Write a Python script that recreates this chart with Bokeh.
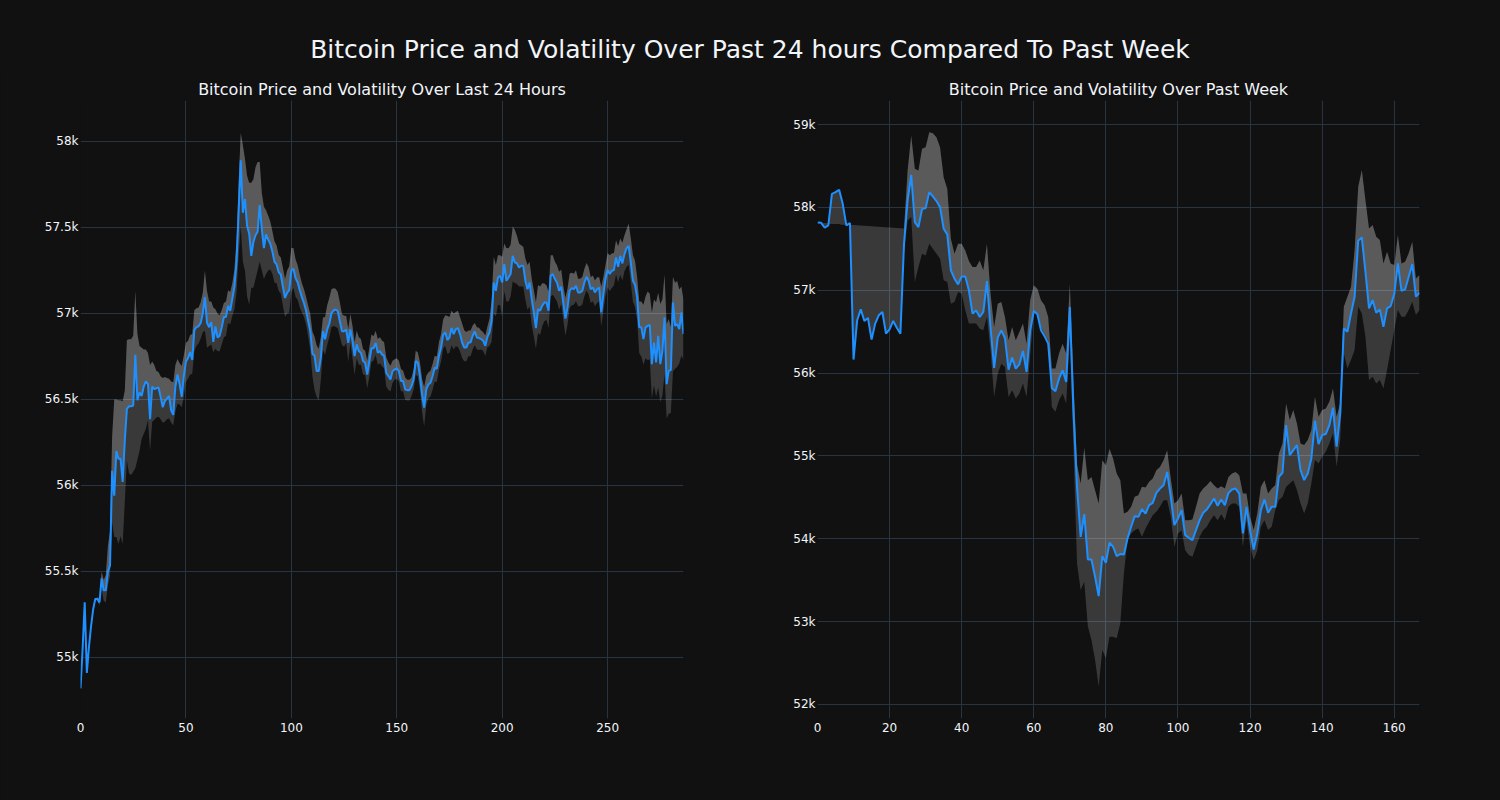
from bokeh.plotting import figure
from bokeh.models import Range1d, FixedTicker, NumeralTickFormatter, Div
from bokeh.layouts import column, row
from bokeh.embed import file_html
from bokeh.resources import INLINE

# ---------------- data ----------------
main_title = "Bitcoin Price and Volatility Over Past 24 hours Compared To Past Week"
day_title = "Bitcoin Price and Volatility Over Last 24 Hours"
week_title = "Bitcoin Price and Volatility Over Past Week"

day_price = [
    54820, 55050, 55320, 54910, 55060, 55180, 55280, 55340, 55340, 55320,
    55460, 55390, 55390, 55500, 55535, 56085, 55940, 56200, 56155, 56155,
    56020, 56260, 56445, 56460, 56460, 56465, 56760, 56495, 56540, 56520,
    56575, 56605, 56590, 56385, 56575, 56560, 56565, 56570, 56515, 56455,
    56490, 56505, 56520, 56435, 56410, 56575, 56645, 56590, 56515, 56635,
    56720, 56740, 56775, 56730, 56905, 56920, 56925, 56945, 57000, 57095,
    56945, 56920, 56950, 56835, 56925, 56860, 56870, 56920, 56980, 56980,
    57045, 57015, 57085, 57155, 57300, 57585, 57890, 57585, 57665, 57510,
    57465, 57335, 57415, 57455, 57475, 57630, 57490, 57380, 57460, 57430,
    57405, 57360, 57300, 57285, 57240, 57225, 57155, 57090, 57120, 57135,
    57250, 57260, 57205, 57180, 57135, 57095, 57060, 57015, 56955, 56895,
    56765, 56755, 56665, 56665, 56745, 56897, 56850, 56907, 56940, 57000,
    57017, 57023, 57014, 56955, 56897, 56897, 56907, 56829, 56907, 56839,
    56752, 56820, 56781, 56771, 56723, 56713, 56645, 56723, 56797, 56797,
    56829, 56771, 56781, 56762, 56752, 56655, 56636, 56616, 56665, 56674,
    56680, 56665, 56607, 56607, 56558, 56554, 56554, 56578, 56616, 56723,
    56713, 56636, 56529, 56452, 56558, 56587, 56597, 56636, 56684, 56680,
    56752, 56800, 56875, 56890, 56845, 56860, 56915, 56880, 56909, 56915,
    56880, 56831, 56802, 56802, 56831, 56831, 56870, 56895, 56860, 56857,
    56851, 56841, 56812, 56864, 56890, 56957, 57180, 57132, 57209, 57219,
    57180, 57287, 57190, 57209, 57229, 57335, 57297, 57291, 57267, 57277,
    57277, 57190, 57141, 57180, 57083, 57006, 56915, 57025, 57016, 57045,
    57064, 57064, 57016, 57219, 57229, 57200, 57180, 57132, 57155, 57060,
    56970, 57035, 57132, 57147, 57141, 57161, 57122, 57122, 57132, 57180,
    57213, 57190, 57141, 57151, 57122, 57141, 57151, 57006, 57112, 57200,
    57252, 57229, 57248, 57252, 57326, 57271, 57335, 57291, 57345, 57380,
    57393, 57297, 57190, 57167, 57093, 56919, 56919, 56851, 56919, 56928,
    56934, 56705, 56831, 56715, 56870, 56705, 56783, 56977, 56589, 56667,
    56671, 57064, 56928, 56938, 56909, 57006, 56880,
]

# distance of the upper band above the price, and of the lower band below it
day_band_up = [
    0, 0, 0, 0, 0, 0, 0, 0, 10, 20,
    40, 60, 90, 150, 200, 200, 560, 300, 340, 340,
    470, 290, 400, 390, 390, 405, 370, 385, 270, 280,
    215, 185, 180, 315, 145, 140, 100, 90, 120, 170,
    140, 120, 100, 170, 190, 125, 90, 120, 180, 120,
    110, 100, 100, 150, 115, 110, 110, 120, 120, 155,
    185, 150, 120, 200, 100, 140, 120, 100, 80, 90,
    90, 110, 90, 100, 130, 180, 160, 395, 235, 290,
    295, 425, 365, 395, 405, 250, 210, 240, 140, 140,
    130, 120, 120, 110, 100, 100, 110, 110, 130, 140,
    130, 120, 110, 100, 90, 80, 80, 80, 90, 100,
    130, 110, 150, 130, 120, 80, 130, 140, 150, 140,
    130, 120, 110, 110, 100, 90, 80, 80, 90, 90,
    80, 80, 80, 80, 70, 70, 80, 80, 80, 70,
    70, 80, 80, 80, 80, 90, 80, 80, 60, 60,
    60, 60, 70, 60, 70, 60, 60, 50, 60, 60,
    60, 80, 90, 120, 80, 70, 70, 70, 70, 70,
    80, 80, 90, 100, 140, 120, 100, 120, 100, 100,
    100, 110, 100, 90, 70, 70, 60, 50, 60, 60,
    50, 50, 60, 60, 80, 120, 150, 150, 130, 120,
    150, 120, 190, 170, 170, 170, 190, 160, 140, 120,
    110, 130, 140, 120, 120, 130, 150, 140, 140, 130,
    110, 100, 110, 120, 110, 100, 100, 110, 100, 100,
    120, 110, 100, 90, 90, 90, 80, 80, 80, 80,
    80, 80, 70, 70, 70, 70, 60, 150, 100, 80,
    100, 110, 100, 100, 100, 120, 100, 120, 110, 110,
    130, 140, 150, 140, 120, 150, 150, 200, 180, 200,
    180, 300, 250, 350, 250, 350, 300, 250, 350, 300,
    250, 150, 250, 250, 230, 150, 200,
]

day_band_dn = [
    0, 0, 0, 0, 0, 0, 0, 0, 10, 20,
    60, 60, 70, 80, 60, 300, 240, 500, 495, 450,
    360, 360, 300, 390, 400, 385, 660, 345, 340, 250,
    275, 275, 210, 185, 205, 180, 170, 170, 130, 90,
    120, 120, 130, 70, 60, 145, 170, 120, 60, 120,
    120, 120, 130, 80, 125, 110, 100, 90, 110, 195,
    145, 110, 130, 60, 130, 80, 90, 100, 120, 110,
    100, 80, 100, 130, 180, 250, 380, 285, 415, 410,
    415, 185, 265, 255, 225, 330, 240, 180, 230, 180,
    150, 130, 120, 110, 110, 110, 110, 110, 120, 130,
    130, 110, 110, 100, 100, 90, 80, 80, 90, 110,
    130, 200, 150, 170, 130, 110, 90, 90, 80, 80,
    90, 100, 100, 90, 80, 90, 80, 110, 80, 100,
    110, 80, 80, 70, 80, 70, 80, 90, 80, 70,
    70, 70, 70, 70, 70, 80, 80, 70, 70, 60,
    60, 60, 60, 60, 60, 60, 60, 60, 60, 80,
    80, 80, 100, 110, 90, 80, 80, 80, 80, 80,
    80, 80, 80, 80, 80, 90, 100, 90, 100, 110,
    100, 90, 80, 80, 80, 80, 80, 80, 70, 70,
    60, 60, 60, 60, 80, 120, 180, 150, 160, 170,
    200, 160, 120, 140, 130, 150, 120, 120, 110, 120,
    120, 110, 120, 140, 150, 140, 120, 140, 140, 120,
    110, 100, 100, 120, 120, 110, 110, 110, 100, 100,
    100, 100, 100, 100, 90, 90, 80, 80, 80, 80,
    80, 80, 80, 80, 80, 80, 80, 80, 100, 100,
    100, 100, 100, 90, 100, 90, 110, 100, 100, 110,
    110, 120, 120, 130, 130, 150, 170, 150, 180, 200,
    200, 200, 250, 200, 300, 220, 260, 330, 200, 250,
    250, 400, 250, 250, 200, 250, 150,
]

week_price = [
    57818, 57814, 57754, 57782, 58164, 58184, 58212, 58043, 57782, 57810,
    56163, 56637, 56769, 56629, 56665, 56404, 56597, 56697, 56737, 56476,
    56528, 56629, 56548, 56476, 57561, 58084, 58393, 57822, 57762, 57979,
    57991, 58184, 58132, 58076, 58003, 57742, 57674, 57240, 57139, 57071,
    57167, 57167, 56999, 56717, 56757, 56677, 56737, 57111, 56556, 56062,
    56428, 56516, 56424, 56042, 56187, 56054, 56106, 56267, 56014, 56516,
    56749, 56709, 56516, 56444, 56355, 55821, 55781, 55933, 56034, 55893,
    56798, 55550, 54620, 54024, 54297, 53751, 53751, 53542, 53309, 53791,
    53711, 53952, 53904, 53791, 53815, 53811, 54004, 54145, 54273, 54265,
    54357, 54305, 54406, 54434, 54554, 54606, 54647, 54807, 54506, 54165,
    54245, 54345, 54044, 54012, 53984, 54104, 54225, 54313, 54353, 54418,
    54486, 54398, 54474, 54406, 54554, 54594, 54606, 54546, 54064, 54386,
    54100, 53871, 54064, 54346, 54475, 54314, 54386, 54386, 54749, 54797,
    55372, 55010, 55071, 55131, 54829, 54708, 54789, 54970, 55425, 55143,
    55252, 55264, 55372, 55582, 55111, 55514, 56539, 56499, 56720, 56922,
    57598, 57638, 57223, 56781, 56881, 56728, 56769, 56559, 56781, 56809,
    56954, 57324, 56994, 57010, 57163, 57316, 56922, 56970,
]

# the weekly bands start after the first 24 hours
week_upper = [None] * 24 + [
    57745, 58445, 58867, 58465, 58445, 58707,
    58727, 58908, 58896, 58847, 58727, 58365, 58224, 57622, 57441, 57561,
    57561, 57481, 57352, 57280, 57280, 57360, 57240, 57561, 56958, 56556,
    56838, 56858, 56677, 56396, 56556, 56396, 56496, 56597, 56355, 56878,
    57059, 57019, 56878, 56818, 56677, 56054, 56054, 56235, 56355, 56235,
    57079, 55900, 54900, 54667, 55100, 54707, 54747, 54586, 54426, 54948,
    54888, 55088, 54968, 54787, 54707, 54305, 54325, 54386, 54506, 54526,
    54627, 54619, 54687, 54727, 54827, 54867, 54948, 55068, 54727, 54426,
    54466, 54546, 54225, 54225, 54233, 54386, 54546, 54606, 54647, 54699,
    54647, 54606, 54635, 54606, 54747, 54787, 54807, 54767, 54546, 54546,
    54265, 54105, 54306, 54628, 54708, 54547, 54608, 54648, 55030, 55151,
    55634, 55433, 55553, 55392, 55151, 55131, 55191, 55312, 55714, 55473,
    55553, 55574, 55654, 55815, 55473, 55634, 56801, 56922, 57042, 57485,
    58249, 58451, 58089, 57746, 57787, 57646, 57606, 57324, 57465, 57324,
    57304, 57666, 57324, 57344, 57445, 57586, 57143, 57183,
]

week_lower = [None] * 24 + [
    57450, 57842, 57883, 57100, 57280, 57440,
    57420, 57561, 57501, 57440, 57380, 57119, 57099, 56838, 56858, 56978,
    56958, 56757, 56597, 56597, 56597, 56536, 56516, 56677, 56275, 55712,
    55994, 56114, 56074, 55712, 55793, 55692, 55753, 55873, 55712, 56215,
    56737, 56717, 56556, 56476, 56396, 55592, 55532, 55672, 55753, 55632,
    56450, 55100, 53700, 53382, 53482, 52940, 52779, 52538, 52217, 52659,
    52558, 52819, 52819, 52799, 52980, 53582, 53984, 54064, 54104, 54124,
    54024, 54124, 54205, 54285, 54325, 54386, 54466, 54466, 54265, 53904,
    54064, 54104, 53863, 53803, 53783, 53904, 54024, 54104, 54145, 54225,
    54285, 54225, 54297, 54225, 54386, 54426, 54426, 54386, 53904, 54225,
    53904, 53743, 53863, 54145, 54225, 54105, 54145, 54346, 54467, 54507,
    54628, 54668, 54708, 54588, 54427, 54306, 54427, 54668, 54950, 54910,
    54990, 55050, 55151, 55272, 54869, 55191, 56238, 56056, 56157, 56278,
    56801, 56720, 56439, 55916, 55956, 55875, 55916, 55815, 56036, 56278,
    56519, 56761, 56680, 56680, 56761, 56861, 56700, 56761,
]

day_x_ticks = [0, 50, 100, 150, 200, 250]
day_y_ticks = [55000, 55500, 56000, 56500, 57000, 57500, 58000]
week_x_ticks = [0, 20, 40, 60, 80, 100, 120, 140, 160]
week_y_ticks = [52000, 53000, 54000, 55000, 56000, 57000, 58000, 59000]

# ---------------- style ----------------
BG = "#111111"
GRID = "#283442"
TXT = "#f2f5fa"
LINE = "#1e90ff"
FONT = "DejaVu Sans"
HEAD_H = 70


def band_polygons(xs, price, upper, lower):
    valid = [i for i in range(len(xs)) if upper[i] is not None]
    vx = [xs[i] for i in valid]
    up = [upper[i] for i in valid]
    lo = [lower[i] for i in valid]
    band = (vx + vx[::-1], up + lo[::-1])
    above = (list(xs) + vx[::-1], list(price) + up[::-1])
    return band, above


def make_panel(title, xs, price, upper, lower, xr, yr, xt, yt, bl, br):
    p = figure(width=750, height=800 - HEAD_H, output_backend="svg", toolbar_location=None,
               x_range=Range1d(*xr), y_range=Range1d(*yr),
               min_border_left=bl, min_border_right=br,
               min_border_top=100 - HEAD_H, min_border_bottom=82,
               background_fill_color=BG, border_fill_color=BG,
               outline_line_color=None, title=title)
    p.title.align = "center"
    p.title.text_font = FONT
    p.title.text_font_size = "16px"
    p.title.text_font_style = "normal"
    p.title.text_color = TXT
    p.title.standoff = 4

    band, above = band_polygons(xs, price, upper, lower)
    p.patch(band[0], band[1], fill_color="white", fill_alpha=0.17, line_color=None)
    p.patch(above[0], above[1], fill_color="white", fill_alpha=0.17, line_color=None)
    p.line(xs, price, line_color=LINE, line_width=2)

    p.xaxis.ticker = FixedTicker(ticks=xt)
    p.yaxis.ticker = FixedTicker(ticks=yt)
    p.yaxis.formatter = NumeralTickFormatter(format="0.[0]a")
    for ax in (p.xaxis[0], p.yaxis[0]):
        ax.axis_line_color = None
        ax.major_tick_line_color = None
        ax.minor_tick_line_color = None
        ax.major_tick_out = 0
        ax.major_tick_in = 0
        ax.minor_tick_out = 0
        ax.major_label_text_color = TXT
        ax.major_label_text_font = FONT
        ax.major_label_text_font_size = "12px"
    p.xaxis.major_label_standoff = 4
    p.yaxis.major_label_standoff = 2
    p.xgrid.grid_line_color = GRID
    p.ygrid.grid_line_color = GRID
    p.xgrid.grid_line_width = 1
    p.ygrid.grid_line_width = 1
    return p


day_x = list(range(len(day_price)))
day_upper = [v + d for v, d in zip(day_price, day_band_up)]
day_lower = [v - d for v, d in zip(day_price, day_band_dn)]
week_x = list(range(len(week_price)))

p1 = make_panel(day_title, day_x, day_price, day_upper, day_lower,
                (0, len(day_price) - 1), (54645, 58238), day_x_ticks, day_y_ticks, 80, 67)
p2 = make_panel(week_title, week_x, week_price, week_upper, week_lower,
                (0, len(week_price) - 1), (51831, 59290), week_x_ticks, week_y_ticks, 67, 81)

head = Div(text=(
    '<div style="width:1500px;height:%dpx;background:%s;color:%s;'
    'font-family:\'%s\';font-size:25px;line-height:28px;text-align:center;'
    'padding-top:36px;box-sizing:border-box;">%s</div>' % (HEAD_H, BG, TXT, FONT, main_title)),
    width=1500, height=HEAD_H, margin=0, styles={"background-color": BG})

layout = column(head, row(p1, p2), styles={"background-color": BG})
html = file_html(layout, INLINE, title="Bitcoin")
html = html.replace("<body>", '<body style="margin:0;background:#111111;">')
open("out.html", "w").write(html)
